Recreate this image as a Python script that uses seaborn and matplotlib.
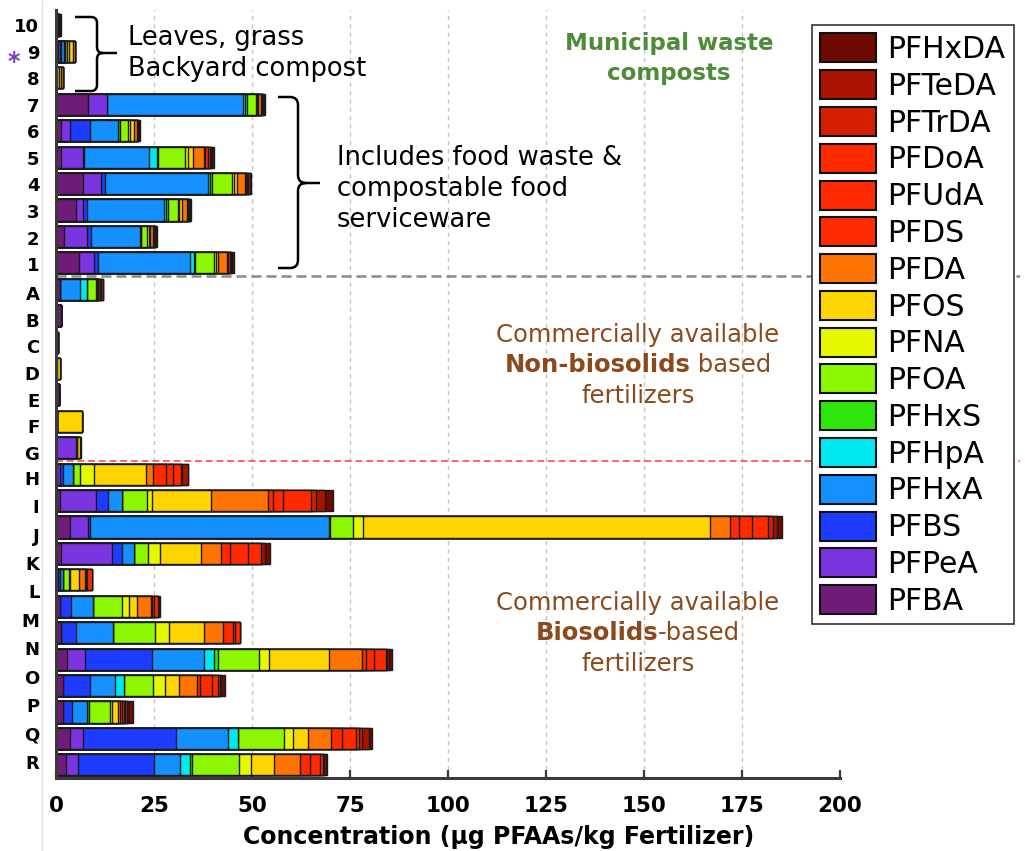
import numpy as np
import pandas as pd
import matplotlib
matplotlib.use("Agg")
import matplotlib.pyplot as plt
from matplotlib.path import Path
from matplotlib.patches import PathPatch, Patch
from matplotlib.lines import Line2D
from matplotlib.transforms import Affine2D
import seaborn as sns

# ---------------------------------------------------------------------------
# Samples (bars listed top to bottom) and their tick labels
# ---------------------------------------------------------------------------
compost_labels = ["10", "9", "8", "7", "6", "5", "4", "3", "2", "1"]
nonbio_labels = ["A", "B", "C", "D", "E", "F", "G"]
bio_labels = ["H", "I", "J", "K", "L", "M", "N", "O", "P", "Q", "R"]
n_compost_bars = 10
n_nonbio_bars = 7
n_bio_bars = 12

# PFAA species in stacking order (left to right inside each bar)
compounds = ["PFBA", "PFPeA", "PFBS", "PFHxA", "PFHpA", "PFHxS", "PFOA", "PFNA",
             "PFOS", "PFDA", "PFDS", "PFUdA", "PFDoA", "PFTrDA", "PFTeDA", "PFHxDA"]

# Concentrations (ug/kg), one value per bar, top to bottom
PFBA = [0.2, 0.5, 0, 8.2, 1.4, 1.4, 6.8, 5.1, 2.1, 5.9,
        0.9, 1.2, 0, 0, 0.7, 0.2, 0.1,
        0.3, 0.9, 3.5, 1.3, 0.3, 1.1, 1.3, 2.8, 1.7, 1.9, 3.6, 2.5]
PFPeA = [0, 0.6, 0, 4.7, 2.2, 5.5, 4.8, 1.7, 5.8, 3.9,
         0, 0, 0, 0, 0, 0, 4.9,
         0.6, 9.3, 4.6, 13.1, 0.2, 0, 0, 4.5, 0, 0, 3.4, 3.0]
PFBS = [0, 0.3, 0, 0.2, 5.1, 0.3, 0.9, 1.1, 1.0, 1.0,
        0.1, 0, 0, 0, 0, 0, 0,
        1.0, 3.0, 0.5, 2.4, 0.5, 2.7, 3.9, 17.1, 7.0, 2.1, 23.5, 19.5]
PFHxA = [0.2, 0.6, 0, 34.6, 7.2, 16.5, 26.4, 19.7, 12.5, 23.4,
         5.2, 0, 0, 0, 0, 0, 0,
         2.4, 3.6, 61.0, 3.2, 0.9, 5.6, 9.3, 13.4, 6.4, 4.0, 13.4, 6.6]
PFHpA = [0, 0.2, 0, 0.6, 0, 2.1, 0.3, 0.5, 0.2, 1.1,
         1.6, 0, 0, 0, 0, 0, 0,
         0, 0, 0, 0, 0, 0, 0, 2.5, 2.3, 0, 2.5, 2.6]
PFHxS = [0, 0, 0, 0.3, 0.5, 0.2, 0.7, 0.4, 0.2, 0.1,
         0, 0, 0, 0, 0, 0, 0,
         0, 0, 0.4, 0, 0, 0, 0, 1.1, 0, 0.5, 0, 0.5]
PFOA = [0.2, 0.6, 0.3, 2.3, 1.9, 7.0, 5.1, 2.6, 1.4, 4.9,
        2.5, 0, 0, 0, 0, 0, 0.4,
        1.7, 6.5, 5.7, 3.4, 1.5, 7.5, 10.8, 10.4, 7.3, 5.2, 11.7, 12.0]
PFNA = [0, 0.5, 0.5, 0.3, 0.7, 0.6, 0.5, 0.4, 0.4, 0.4,
        0.2, 0, 0, 0.2, 0, 0, 0,
        3.8, 1.1, 2.5, 3.1, 0.1, 1.7, 3.4, 2.6, 3.1, 0.6, 2.3, 3.1]
PFOS = [0.2, 1.0, 0.6, 0.4, 0.8, 1.4, 0.6, 0.6, 0.5, 0.6,
        0.3, 0, 0.6, 0.7, 0, 6.4, 0.6,
        13.2, 15.1, 88.5, 10.4, 2.4, 2.0, 9.1, 15.2, 3.6, 1.4, 3.8, 5.8]
PFDA = [0, 0.5, 0.3, 0.7, 0.8, 2.7, 2.0, 1.4, 0.6, 2.3,
        0, 0, 0, 0, 0, 0, 0.2,
        1.7, 14.7, 5.3, 5.3, 1.5, 3.6, 4.7, 8.5, 4.5, 0.6, 5.9, 6.7]
PFDS = [0, 0, 0, 0, 0, 0.3, 0.3, 0.2, 0.2, 0.3,
        0, 0, 0, 0, 0, 0, 0,
        3.3, 1.2, 2.1, 2.3, 0.3, 0.4, 2.7, 1.0, 0.8, 0.5, 2.8, 2.4]
PFUdA = [0, 0, 0, 0.3, 0.3, 0.9, 0.4, 0.3, 0.3, 0.4,
         0.4, 0, 0, 0, 0, 0, 0,
         1.9, 2.5, 3.4, 4.5, 0.3, 0.3, 0.4, 1.9, 3.0, 0.6, 3.6, 2.7]
PFDoA = [0, 0, 0, 0, 0, 0.3, 0.3, 0.1, 0.1, 0.2,
         0.4, 0, 0, 0, 0, 0, 0,
         1.9, 7.2, 4.1, 3.4, 1.1, 1.0, 1.3, 3.1, 1.7, 0.3, 0.8, 0.6]
PFTrDA = [0, 0, 0, 0.2, 0, 0.4, 0.3, 0.1, 0.1, 0.2,
          0.3, 0, 0, 0, 0, 0, 0,
          0.3, 1.3, 1.2, 0, 0, 0.2, 0, 0.4, 0.4, 0.3, 0.7, 0.4]
PFTeDA = [0.2, 0, 0, 0.2, 0.2, 0.3, 0.2, 0.1, 0.1, 0.2,
          0, 0, 0, 0, 0, 0, 0,
          1.6, 2.1, 1.2, 1.0, 0, 0.2, 0, 0.4, 0.4, 0.4, 1.9, 0.4]
PFHxDA = [0.2, 0, 0, 0.2, 0.2, 0.3, 0.2, 0.1, 0.2, 0.4,
          0, 0, 0, 0, 0, 0, 0.3,
          0, 2.1, 1.2, 1.3, 0.1, 0.2, 0, 0.8, 0.8, 1.2, 0.8, 0.4]

x_ticks = [0, 25, 50, 75, 100, 125, 150, 175, 200]

# ---------------------------------------------------------------------------
# Styling
# ---------------------------------------------------------------------------
colors = ["#6f1c78", "#7a35e0", "#1e3cff", "#1490ff", "#00e8f0", "#2ee60a",
          "#8cf700", "#e6f800", "#ffd500", "#ff7300", "#ff2a00", "#ff2a00",
          "#ff2a00", "#d42000", "#a81400", "#6e0a00"]

sns.set_theme(style="white")
plt.rcParams["font.family"] = ["DejaVu Sans"]
plt.rcParams.update({"text.color": "black", "axes.labelcolor": "black",
                     "xtick.color": "black", "ytick.color": "black"})

W, H = 1025, 851
fig = plt.figure(figsize=(W / 100, H / 100), dpi=100)
fig.patch.set_facecolor("white")
ax = fig.add_axes([56 / W, 1 - 778 / H, (1020 - 56) / W, 768 / H])
ax.set_facecolor("white")

# transform taking pixel coordinates measured from the top-left corner
px = Affine2D().scale(1 / W, -1 / H).translate(0, 1) + fig.transFigure

# ---------------------------------------------------------------------------
# Stacked bars: draw cumulative totals from the outermost species inwards
# ---------------------------------------------------------------------------
series = [PFBA, PFPeA, PFBS, PFHxA, PFHpA, PFHxS, PFOA, PFNA,
          PFOS, PFDA, PFDS, PFUdA, PFDoA, PFTrDA, PFTeDA, PFHxDA]
n_bars = n_compost_bars + n_nonbio_bars + n_bio_bars
df = pd.DataFrame({"row": np.arange(n_bars)})
cum = np.cumsum(np.array(series, dtype=float), axis=0)
for name, c in zip(compounds, cum):
    df[name] = c

for k in reversed(range(len(compounds))):
    sns.barplot(data=df, x=compounds[k], y="row", orient="h", native_scale=True,
                color=colors[k], saturation=1, width=0.8, edgecolor="#1a1a1a",
                linewidth=1.0, errorbar=None, ax=ax, zorder=3)

ax.set_xlim(0, 245.9)
ax.set_ylim(n_bars - 0.5, -0.57)

# vertical reference lines at the inner ticks
for t in x_ticks[1:-1]:
    ax.axvline(t, color="#c4c4c4", linewidth=1.0, linestyle=(0, (3, 3)), zorder=0)

# group separators
ax.axhline(n_compost_bars - 0.5, color="#8a8a8a", linewidth=1.8,
           linestyle=(0, (4, 2)), zorder=4)
ax.axhline(n_compost_bars + n_nonbio_bars - 0.5, color="#ff3b3b", linewidth=1.1,
           linestyle=(0, (4.5, 2.5)), zorder=4)

# ---------------------------------------------------------------------------
# Axes, ticks and labels
# ---------------------------------------------------------------------------
for side in ("top", "right"):
    ax.spines[side].set_visible(False)
for side in ("left", "bottom"):
    ax.spines[side].set_linewidth(2.2)
    ax.spines[side].set_color("#3a3a3a")
    ax.spines[side].set_zorder(5)
ax.spines["bottom"].set_bounds(0, 200)

ax.set_xticks(x_ticks, labels=[str(t) for t in x_ticks],
              fontweight="bold", fontsize=15.5)
ax.tick_params(axis="x", direction="in", length=6, width=1.6, color="#3a3a3a",
               labelcolor="black", pad=13, bottom=True)

start_nb = n_compost_bars
start_b = n_compost_bars + n_nonbio_bars
ytick_pos = np.concatenate([
    np.linspace(0, n_compost_bars - 1 + 0.05, len(compost_labels)),
    np.linspace(start_nb + 0.14, start_nb + n_nonbio_bars - 0.8, len(nonbio_labels)),
    np.linspace(start_b + 0.14, n_bars - 1.11, len(bio_labels)),
])
ax.set_yticks(ytick_pos, labels=compost_labels + nonbio_labels + bio_labels,
              fontweight="bold", fontsize=13)
ax.tick_params(axis="y", length=0, pad=12, left=False, labelcolor="black")

ax.set_ylabel("")
ax.set_xlabel("Concentration (µg PFAAs/kg Fertilizer)", fontsize=17,
              fontweight="bold", color="black")
ax.xaxis.label.set_va("baseline")
ax.xaxis.set_label_coords((499 - 56) / 964, (778 - 844) / 768)

# faint page rule left of the axis
fig.add_artist(Line2D([41.5, 41.5], [0, H], transform=px, color="#e3e3e3", lw=1))

# purple marker before sample 9
fig.text(14 / W, 1 - 62 / H, "*", color="#7a3fc0", fontsize=17,
         fontweight="bold", ha="center", va="center")

# ---------------------------------------------------------------------------
# Annotations
# ---------------------------------------------------------------------------
def brace(xl, xm, xt, yt, yb, yc, r):
    verts = [(xl, yt), (xm - r, yt), (xm, yt), (xm, yt + r), (xm, yc - r),
             (xm, yc), (xm + r, yc), (xt, yc),
             (xm + r, yc), (xm, yc), (xm, yc + r), (xm, yb - r),
             (xm, yb), (xm - r, yb), (xl, yb)]
    codes = [Path.MOVETO, Path.LINETO, Path.CURVE3, Path.CURVE3, Path.LINETO,
             Path.CURVE3, Path.CURVE3, Path.LINETO,
             Path.MOVETO, Path.CURVE3, Path.CURVE3, Path.LINETO,
             Path.CURVE3, Path.CURVE3, Path.LINETO]
    fig.add_artist(PathPatch(Path(verts, codes), transform=px, fill=False,
                             edgecolor="black", lw=1.8, joinstyle="round",
                             capstyle="butt"))


brace(75, 97, 117, 17, 91, 53, 6)
brace(278, 298, 320, 97, 268, 183, 8)


def ptext(x, y, s, **kw):
    return fig.text(x / W, 1 - y / H, s, va="baseline", **kw)


for y, s in [(45, "Leaves, grass"), (76, "Backyard compost")]:
    ptext(128, y, s, fontsize=18.5, color="black")
for y, s in [(165, "Includes food waste &"), (196, "compostable food"),
             (227, "serviceware")]:
    ptext(337, y, s, fontsize=18.5, color="black")

green = "#4e8c3a"
ptext(669, 50, "Municipal waste", fontsize=16.5, fontweight="bold", color=green,
      ha="center")
ptext(669, 80, "composts", fontsize=16.5, fontweight="bold", color=green,
      ha="center")

brown = "#8c4a1c"
renderer = fig.canvas.get_renderer()


def mixed_line(cx, y, parts, size):
    texts = [ptext(0, y, s, fontsize=size, fontweight=w, color=brown, ha="left")
             for s, w in parts]
    widths = [t.get_window_extent(renderer).width for t in texts]
    x = cx - sum(widths) / 2
    for t, wd in zip(texts, widths):
        t.set_x(x / W)
        x += wd


mixed_line(638, 342, [("Commercially available", "normal")], 17.5)
mixed_line(638, 372, [("Non-biosolids", "bold"), (" based", "normal")], 17.5)
mixed_line(638, 403, [("fertilizers", "normal")], 17.5)

mixed_line(638, 610, [("Commercially available", "normal")], 17.5)
mixed_line(638, 640, [("Biosolids", "bold"), ("-based", "normal")], 17.5)
mixed_line(638, 671, [("fertilizers", "normal")], 17.5)

# ---------------------------------------------------------------------------
# Legend (outermost species first)
# ---------------------------------------------------------------------------
handles = [Patch(facecolor=colors[k], edgecolor="#111111", linewidth=1.5,
                 label=compounds[k]) for k in reversed(range(len(compounds)))]
leg = fig.legend(handles=handles, loc="upper left",
                 bbox_to_anchor=(812 / W, 1 - 25 / H), borderaxespad=0,
                 frameon=True, fancybox=False, framealpha=1, edgecolor="#333333",
                 fontsize=21.5, handlelength=1.85, handleheight=1.12,
                 handletextpad=0.4, labelspacing=0.205, borderpad=0.28)
leg.get_frame().set_linewidth(1.2)
leg.set_zorder(10)
for txt in leg.get_texts():
    txt.set_color("black")

fig.savefig("out.png", dpi=100, facecolor="white")
